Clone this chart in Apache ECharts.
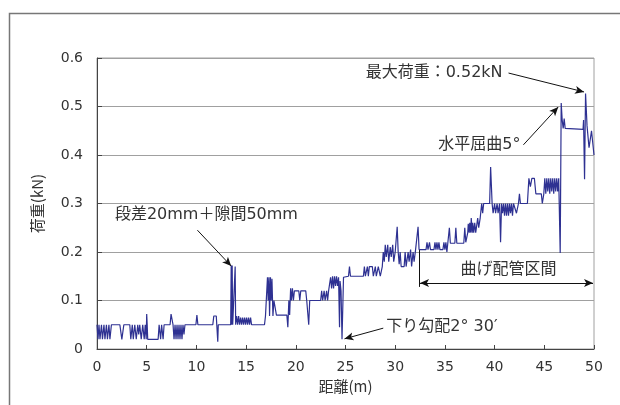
<!DOCTYPE html>
<html>
<head>
<meta charset="utf-8">
<script src="https://cdn.jsdelivr.net/npm/echarts@6/dist/echarts.min.js"></script>
<style>
  html, body { margin: 0; padding: 0; background: #fff; }
  #main { width: 620px; height: 405px; }
</style>
</head>
<body>
<div id="main"></div>
<script>
// 距離(m), 荷重(kN) の測定トレース
var loadTrace = [
  [0,0.05],[0.1,0.02],[0.2,0.05],[0.3,0.02],[0.45,0.05],[0.55,0.02],[0.7,0.05],[0.8,0.02],[0.95,0.05],[1.05,0.02],[1.2,0.05],[1.3,0.02],[1.45,0.05],
  [2.3,0.05],[2.5,0.02],[2.7,0.05],[3.3,0.05],[3.4,0.02],[3.55,0.05],[3.65,0.02],[3.8,0.05],[3.95,0.02],[4.1,0.05],[4.2,0.03],[4.3,0.05],[4.45,0.02],[4.6,0.05],[4.75,0.02],[4.85,0.05],
  [4.95,0.02],[5.0,0.072],[5.05,0.05],[5.1,0.02],[6.15,0.02],[6.25,0.05],[6.4,0.02],[6.5,0.05],[6.65,0.02],[6.75,0.05],[7.35,0.05],[7.45,0.072],[7.55,0.072],[7.65,0.05],
  [7.75,0.02],[7.85,0.05],[7.95,0.02],[8.05,0.05],[8.15,0.02],[8.25,0.05],[8.35,0.02],[8.45,0.05],[8.55,0.02],[8.65,0.05],[8.75,0.03],[8.85,0.05],[9.95,0.05],[10.05,0.07],[10.15,0.05],
  [11.65,0.05],[11.75,0.068],[12.0,0.068],[12.05,0.05],[12.15,0.015],[12.2,0.05],[13.45,0.05],[13.5,0.172],[13.55,0.05],[13.6,0.172],[13.65,0.05],[13.85,0.05],[13.9,0.17],[13.95,0.05],
  [14.05,0.068],[14.15,0.05],[14.25,0.068],[14.35,0.05],[14.45,0.065],[14.55,0.05],[14.65,0.065],[14.75,0.05],[14.85,0.065],[14.95,0.05],[15.05,0.065],[15.15,0.05],[15.25,0.065],[15.35,0.05],[15.45,0.065],[15.55,0.05],
  [16.85,0.05],[16.95,0.068],[17.1,0.068],[17.15,0.148],[17.22,0.1],[17.3,0.148],[17.36,0.068],[17.45,0.148],[17.52,0.1],[17.6,0.145],[17.7,0.068],[17.8,0.1],[17.95,0.1],[18.05,0.07],
  [19.1,0.07],[19.2,0.045],[19.3,0.1],[19.38,0.07],[19.48,0.125],[19.56,0.1],[19.66,0.125],[19.76,0.1],[19.86,0.12],[20.3,0.12],[20.4,0.1],[20.5,0.12],[21.0,0.12],[21.1,0.1],[21.2,0.1],[21.3,0.05],[21.4,0.1],[22.5,0.1],
  [22.6,0.12],[22.7,0.1],[22.85,0.12],[22.95,0.1],[23.1,0.12],[23.2,0.1],[23.3,0.12],[23.4,0.12],[23.5,0.148],[23.6,0.125],[23.7,0.15],[23.8,0.125],[23.9,0.15],[24.0,0.13],[24.1,0.15],[24.2,0.13],[24.3,0.148],
  [24.4,0.045],[24.45,0.14],[24.55,0.12],[24.65,0.02],[24.8,0.148],[25.3,0.15],[25.4,0.17],[25.5,0.15],[26.8,0.15],[26.9,0.17],[27.0,0.15],[27.2,0.17],[27.3,0.15],[27.4,0.17],[27.7,0.17],[27.8,0.15],[28.0,0.17],[28.1,0.15],[28.3,0.17],[28.5,0.15],[28.7,0.17],
  [28.8,0.2],[28.9,0.18],[29.0,0.215],[29.1,0.19],[29.25,0.215],[29.35,0.18],[29.5,0.21],[29.6,0.19],[29.75,0.215],[29.85,0.18],[30.0,0.2],[30.1,0.2],[30.2,0.252],[30.3,0.2],[30.4,0.175],[30.5,0.2],[30.6,0.17],[30.9,0.17],
  [31.0,0.2],[31.1,0.17],[31.3,0.2],[31.4,0.18],[31.55,0.205],[31.65,0.17],[31.8,0.2],[31.9,0.18],[32.05,0.205],[32.2,0.205],[32.3,0.252],[32.4,0.205],[33.1,0.205],
  [33.2,0.22],[33.3,0.205],[33.45,0.22],[33.55,0.205],[33.9,0.205],[34.0,0.22],[34.1,0.205],[34.2,0.22],[34.3,0.205],[34.4,0.22],[34.5,0.205],[34.8,0.205],[34.9,0.22],[35.0,0.205],[35.1,0.22],[35.2,0.2],[35.35,0.2],
  [35.45,0.25],[35.55,0.218],[36.0,0.218],[36.1,0.25],[36.2,0.218],[36.9,0.218],[37.0,0.25],[37.1,0.22],[37.3,0.24],[37.35,0.258],[37.45,0.24],[37.5,0.26],[37.6,0.24],[37.65,0.27],[37.75,0.24],[37.8,0.26],[37.9,0.24],[38.0,0.26],[38.1,0.24],[38.2,0.255],[38.3,0.27],[38.4,0.25],[38.55,0.27],
  [38.7,0.3],[38.8,0.28],[38.9,0.3],[39.5,0.3],[39.6,0.375],[39.75,0.3],[39.85,0.28],[40.0,0.3],[40.1,0.28],[40.25,0.3],[40.35,0.28],[40.5,0.3],[40.6,0.22],[40.7,0.3],[40.8,0.28],[40.9,0.3],[41.0,0.275],[41.1,0.3],[41.2,0.275],[41.3,0.3],[41.4,0.275],[41.5,0.3],[41.6,0.28],[41.7,0.3],[41.8,0.275],[41.9,0.3],[42.1,0.3],[42.2,0.28],[42.4,0.3],[42.5,0.32],[42.6,0.3],[43.3,0.3],
  [43.45,0.352],[43.6,0.335],[43.75,0.352],[44.0,0.352],[44.15,0.32],[44.7,0.32],[44.8,0.3],[44.95,0.32],[45.05,0.352],[45.15,0.32],[45.25,0.352],[45.35,0.325],[45.45,0.352],[45.55,0.32],[45.65,0.352],[45.75,0.325],[45.85,0.352],[45.95,0.32],[46.05,0.352],[46.15,0.325],[46.25,0.352],[46.35,0.325],[46.45,0.352],[46.55,0.35],
  [46.6,0.198],[46.7,0.507],[46.8,0.472],[46.9,0.455],[47.0,0.475],[47.1,0.455],[47.2,0.453],[48.9,0.453],[48.95,0.472],[49.05,0.35],[49.15,0.527],[49.3,0.46],[49.5,0.415],[49.75,0.45],[50,0.4]
];

// 注記（データ座標）
var noteTexts = ['最大荷重：0.52kN', '水平屈曲5°', '段差20mm＋隙間50mm', '下り勾配2° 30′', '曲げ配管区間'];
var noteAnchors = [[40.8, 0.569], [42.6, 0.421], [1.8, 0.276], [29.1, 0.045], [41.4, 0.163]];
var noteAligns = ['right', 'right', 'left', 'left', 'center'];

// 矢印 [始点, 終点, 始点の記号, 終点の記号]
var arrows = [
  [[41.4, 0.569], [49.0, 0.530], 'none', 'arrow'],
  [[42.9, 0.421], [46.4, 0.499], 'none', 'arrow'],
  [[10.1, 0.245], [13.5, 0.171], 'none', 'arrow'],
  [[28.8, 0.043], [24.9, 0.021], 'none', 'arrow'],
  [[32.5, 0.136], [49.9, 0.136], 'arrow', 'arrow'],
  [[32.45, 0.204], [32.45, 0.128], 'none', 'none']
];

var latinFont = "'DejaVu Sans', 'Noto Sans CJK JP', sans-serif";
var cjkFont = "'Noto Sans CJK JP', sans-serif";

var chart = echarts.init(document.getElementById('main'));

var option = {
  animation: false,
  grid: { left: 97, right: 26, top: 58, bottom: 56, show: true, borderColor: '#a0a0a0', borderWidth: 1 },
  xAxis: {
    type: 'value', min: 0, max: 50, interval: 5,
    axisLine: { lineStyle: { color: '#444' } },
    axisTick: { inside: true, length: 4, lineStyle: { color: '#444' } },
    axisLabel: { color: '#333', fontSize: 14, margin: 11, fontFamily: latinFont },
    splitLine: { show: false },
    name: '距離(m)', nameLocation: 'middle', nameGap: 28,
    nameTextStyle: { color: '#333', fontSize: 15, fontFamily: cjkFont }
  },
  yAxis: {
    type: 'value', min: 0, max: 0.6, interval: 0.1,
    axisLine: { show: true, lineStyle: { color: '#444' } },
    axisTick: { show: true, inside: true, length: 5, lineStyle: { color: '#444' } },
    axisLabel: { color: '#333', fontSize: 14, margin: 14, fontFamily: latinFont },
    splitLine: { lineStyle: { color: '#a0a0a0' } },
    name: '荷重(kN)', nameLocation: 'middle', nameRotate: 90, nameGap: 52,
    nameTextStyle: { color: '#333', fontSize: 15, fontFamily: cjkFont }
  },
  series: [{
    type: 'line',
    data: loadTrace,
    symbol: 'none',
    lineStyle: { color: '#2e3192', width: 1.2 },
    markLine: {
      silent: true,
      symbolSize: [6, 9],
      label: { show: false },
      lineStyle: { color: '#111', width: 1, type: 'solid' },
      data: arrows.map(function (a) {
        return [{ coord: a[0], symbol: a[2] }, { coord: a[1], symbol: a[3] }];
      })
    }
  }]
};
chart.setOption(option);

// 注記テキストと外枠
var graphics = [{
  type: 'rect', silent: true, z: -1,
  shape: { x: 9.5, y: 13.5, width: 700, height: 500 },
  style: { fill: 'none', stroke: '#777', lineWidth: 1.5 }
}];
noteTexts.forEach(function (t, i) {
  var p = chart.convertToPixel({ gridIndex: 0 }, noteAnchors[i]);
  graphics.push({
    type: 'text', silent: true, x: p[0], y: p[1],
    style: { text: t, fill: '#333', fontSize: 16, fontFamily: latinFont, align: noteAligns[i], verticalAlign: 'middle' }
  });
});
chart.setOption({ graphic: graphics });
</script>
</body>
</html>
